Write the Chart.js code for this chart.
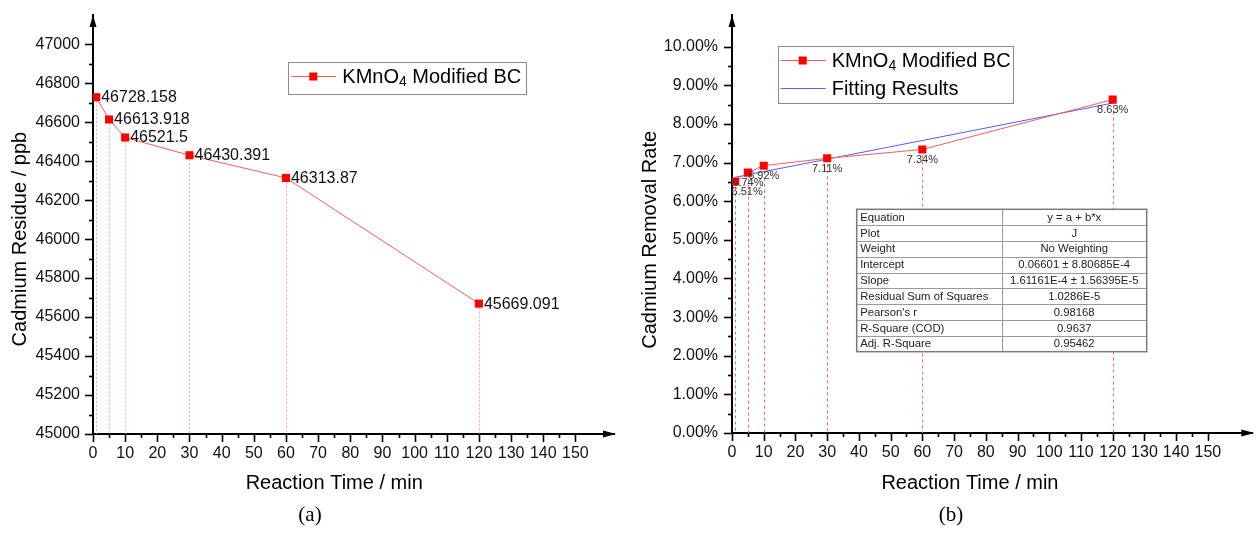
<!DOCTYPE html>
<html>
<head>
<meta charset="utf-8">
<script src="https://cdn.jsdelivr.net/npm/chart.js@4.4.1/dist/chart.umd.min.js"></script>
<style>
  html, body { margin: 0; padding: 0; background: #fff; }
  #wrap { position: relative; width: 1258px; height: 533px; overflow: hidden; }
  .panel { position: absolute; top: 0; width: 629px; height: 533px; }
  #panelA { left: 0; }
  #panelB { left: 629px; }
</style>
</head>
<body>
<div id="wrap">
  <div class="panel" id="panelA"><canvas id="residueChart" width="629" height="533"></canvas></div>
  <div class="panel" id="panelB"><canvas id="removalChart" width="629" height="533"></canvas></div>
</div>
<script>
// datos del ensayo de adsorción de Cd
const reactionTime = [1, 5, 10, 30, 60, 120];
const cdResidue = [46728.158, 46613.918, 46521.5, 46430.391, 46313.87, 45669.091];
const removalRate = [6.51, 6.74, 6.92, 7.11, 7.34, 8.63];
const fitTime = [1, 120];
const fitRate = [6.62, 8.54];

const timeTicks = [0, 10, 20, 30, 40, 50, 60, 70, 80, 90, 100, 110, 120, 130, 140, 150];
const residueTicks = [45000, 45200, 45400, 45600, 45800, 46000, 46200, 46400, 46600, 46800, 47000];
const rateTicks = [0, 1, 2, 3, 4, 5, 6, 7, 8, 9, 10];

const fitTableLabels = ['Equation', 'Plot', 'Weight', 'Intercept', 'Slope', 'Residual Sum of Squares', "Pearson's r", 'R-Square (COD)', 'Adj. R-Square'];
const fitTableValues = ['y = a + b*x', 'J', 'No Weighting', '0.06601 \u00b1 8.80685E-4', '1.61161E-4 \u00b1 1.56395E-5', '1.0286E-5', '0.98168', '0.9637', '0.95462'];

const FONT = '"Liberation Sans", Arial, sans-serif';
const SERIF = '"Liberation Serif", "Times New Roman", serif';

function toPoints(xs, ys) {
    return xs.map((x, i) => ({ x: x, y: ys[i] }));
}

// texto con subíndice: partes [texto, esSub]
function drawRich(ctx, parts, x, y, size) {
    let cx = x;
    parts.forEach(([txt, sub]) => {
        ctx.font = (sub ? Math.round(size * 0.7) : size) + 'px ' + FONT;
        ctx.fillText(txt, cx, sub ? y + size * 0.25 : y);
        cx += ctx.measureText(txt).width;
    });
}

function drawLegend(ctx, box, rows) {
    ctx.save();
    ctx.fillStyle = '#fff';
    ctx.fillRect(box.x, box.y, box.w, box.h);
    ctx.strokeStyle = '#8c8c8c';
    ctx.lineWidth = 1;
    ctx.strokeRect(Math.round(box.x) + 0.5, Math.round(box.y) + 0.5, Math.round(box.w), Math.round(box.h));
    rows.forEach(r => {
        ctx.strokeStyle = r.color;
        ctx.beginPath();
        ctx.moveTo(box.x + 3, r.y + 0.5);
        ctx.lineTo(box.x + 48, r.y + 0.5);
        ctx.stroke();
        if (r.marker) {
            ctx.fillStyle = '#ff0000';
            ctx.fillRect(box.x + 21, r.y - 3.5, 8, 8);
        }
        ctx.fillStyle = '#000';
        ctx.textBaseline = 'middle';
        ctx.textAlign = 'left';
        drawRich(ctx, r.text, box.x + 54, r.y + 1, 20);
    });
    ctx.restore();
}

// ejes estilo Origin: marcas mayores/menores, flechas, títulos y línea de caída
const originAxes = {
    id: 'originAxes',
    beforeDatasetsDraw(chart, args, opts) {
        const { ctx, chartArea: a } = chart;
        const meta = chart.getDatasetMeta(0);
        ctx.save();
        ctx.strokeStyle = opts.dropColor;
        ctx.lineWidth = 1;
        ctx.setLineDash(opts.dropDash);
        meta.data.forEach(pt => {
            const px = Math.round(pt.x) + 0.5;
            ctx.beginPath();
            ctx.moveTo(px, pt.y);
            ctx.lineTo(px, a.bottom);
            ctx.stroke();
        });
        ctx.restore();
    },
    afterDatasetsDraw(chart, args, opts) {
        const { ctx } = chart;
        const meta = chart.getDatasetMeta(0);
        const ds = chart.data.datasets[0];
        ctx.save();
        ctx.fillStyle = opts.labelColor;
        ctx.font = opts.labelSize + 'px ' + FONT;
        ctx.textBaseline = 'middle';
        meta.data.forEach((pt, i) => {
            const txt = opts.labelFormat(ds.data[i].y);
            const shift = (opts.labelShift && opts.labelShift[i]) || [0, 0];
            if (opts.labelSide === 'right') {
                ctx.textAlign = 'left';
                ctx.fillText(txt, pt.x + 5 + shift[0], pt.y + 0.5 + shift[1]);
            } else {
                ctx.textAlign = 'center';
                ctx.fillText(txt, pt.x + shift[0], pt.y + 10.5 + shift[1]);
            }
        });
        ctx.restore();
    },
    afterDraw(chart, args, opts) {
        const { ctx, chartArea: a, scales: { x, y } } = chart;
        ctx.save();
        ctx.strokeStyle = '#000';
        ctx.fillStyle = '#000';
        ctx.lineWidth = 1.6;
        // marcas eje X
        for (let i = 0; i * opts.xMinor <= opts.xLast + 1e-9; i++) {
            const v = i * opts.xMinor;
            const major = i % 2 === 0;
            const px = Math.round(x.getPixelForValue(v)) + 0.5;
            ctx.beginPath();
            ctx.moveTo(px, a.bottom);
            ctx.lineTo(px, a.bottom + (major ? 8 : 4));
            ctx.stroke();
        }
        // marcas eje Y
        for (let i = 0; y.min + i * opts.yMinor <= opts.yLast + 1e-9; i++) {
            const v = y.min + i * opts.yMinor;
            const major = i % 2 === 0;
            const py = Math.round(y.getPixelForValue(v)) + 0.5;
            ctx.beginPath();
            ctx.moveTo(a.left, py);
            ctx.lineTo(a.left - (major ? 8 : 4), py);
            ctx.stroke();
        }
        // flechas
        ctx.beginPath();
        ctx.moveTo(a.left, a.top);
        ctx.lineTo(a.left - 3.5, a.top + 12);
        ctx.lineTo(a.left + 3.5, a.top + 12);
        ctx.closePath();
        ctx.fill();
        ctx.beginPath();
        ctx.moveTo(a.right + 2, a.bottom);
        ctx.lineTo(a.right - 11, a.bottom - 3.5);
        ctx.lineTo(a.right - 11, a.bottom + 3.5);
        ctx.closePath();
        ctx.fill();

        // títulos de ejes
        ctx.font = '20px ' + FONT;
        ctx.textAlign = 'center';
        ctx.textBaseline = 'middle';
        ctx.fillText(opts.xTitle, x.getPixelForValue(opts.xMid), 483);
        ctx.save();
        ctx.translate(opts.yTitleX, y.getPixelForValue(opts.yMid));
        ctx.rotate(-Math.PI / 2);
        ctx.fillText(opts.yTitle, 0, 0);
        ctx.restore();

        // rótulo del panel
        ctx.font = '21px ' + SERIF;
        ctx.fillText(opts.caption, opts.captionX, 515);
        ctx.restore();

        drawLegend(ctx, opts.legendBox, opts.legendRows);
        if (opts.table) drawTable(ctx, opts.table);
    }
};

function drawTable(ctx, t) {
    const rowH = (t.bottom - t.top) / fitTableLabels.length;
    ctx.save();
    ctx.fillStyle = '#fff';
    ctx.fillRect(t.left, t.top, t.right - t.left, t.bottom - t.top);
    ctx.strokeStyle = '#9a9a9a';
    ctx.lineWidth = 1;
    for (let i = 1; i < fitTableLabels.length; i++) {
        const py = Math.round(t.top + i * rowH) + 0.5;
        ctx.beginPath();
        ctx.moveTo(t.left, py);
        ctx.lineTo(t.right, py);
        ctx.stroke();
    }
    ctx.beginPath();
    ctx.moveTo(Math.round(t.mid) + 0.5, t.top);
    ctx.lineTo(Math.round(t.mid) + 0.5, t.bottom);
    ctx.stroke();
    ctx.strokeStyle = '#7a7a7a';
    ctx.lineWidth = 1.5;
    ctx.strokeRect(t.left, t.top, t.right - t.left, t.bottom - t.top);

    ctx.fillStyle = '#222';
    ctx.font = '11.3px ' + FONT;
    ctx.textBaseline = 'middle';
    fitTableLabels.forEach((lbl, i) => {
        const cy = t.top + (i + 0.5) * rowH + 0.5;
        ctx.textAlign = 'left';
        ctx.fillText(lbl, t.left + 3.5, cy);
        ctx.textAlign = 'center';
        ctx.fillText(fitTableValues[i], (t.mid + t.right) / 2, cy);
    });
    ctx.restore();
}

function baseScales(xMax, yMin, yMax, yTicks, yFmt, yWidth, xHeight, yPad) {
    return {
        x: {
            type: 'linear',
            min: 0,
            max: xMax,
            afterBuildTicks: s => { s.ticks = timeTicks.map(v => ({ value: v })); },
            afterFit: s => { s.height = xHeight; s.paddingLeft = 0; s.paddingRight = 0; },
            grid: { display: false, drawTicks: false },
            border: { display: true, color: '#000', width: 2 },
            ticks: {
                autoSkip: false,
                maxRotation: 0,
                padding: 10,
                color: '#111',
                font: { family: FONT, size: 16 },
                callback: v => String(v)
            }
        },
        y: {
            type: 'linear',
            min: yMin,
            max: yMax,
            afterBuildTicks: s => { s.ticks = yTicks.map(v => ({ value: v })); },
            afterFit: s => { s.width = yWidth; s.paddingTop = 0; s.paddingBottom = 0; },
            grid: { display: false, drawTicks: false },
            border: { display: true, color: '#000', width: 2 },
            ticks: {
                padding: yPad,
                color: '#111',
                font: { family: FONT, size: 16 },
                callback: yFmt
            }
        }
    };
}

const seriesStyle = {
    showLine: true,
    borderColor: '#ff5a5a',
    borderWidth: 1,
    backgroundColor: '#ff0000',
    pointStyle: 'rect',
    pointRadius: 5.7,
    pointHoverRadius: 5.7,
    pointBorderWidth: 0,
    pointBackgroundColor: '#ff0000',
    tension: 0
};

const kmno4Label = [['KMnO', false], ['4', true], [' Modified BC', false]];

// (a) residuo de Cd
new Chart(document.getElementById('residueChart'), {
    type: 'scatter',
    data: {
        datasets: [Object.assign({
            label: 'KMnO4 Modified BC',
            data: toPoints(reactionTime, cdResidue)
        }, seriesStyle)]
    },
    options: {
        responsive: false,
        devicePixelRatio: 1,
        animation: false,
        layout: { padding: { top: 15, right: 15, bottom: 0, left: 0 } },
        scales: baseScales(162, 45000, 47150, residueTicks, v => String(v), 93, 99, 13),
        plugins: {
            legend: { display: false },
            tooltip: { enabled: false },
            originAxes: {
                xMinor: 5, xLast: 150, yMinor: 100, yLast: 47000,
                dropColor: '#ffa8a8', dropDash: [2, 2],
                labelSide: 'right', labelSize: 16, labelColor: '#111',
                labelFormat: v => String(v),
                xTitle: 'Reaction Time / min', xMid: 75,
                yTitle: 'Cadmium Residue / ppb', yMid: 46000, yTitleX: 20,
                caption: '(a)', captionX: 310,
                legendBox: { x: 288.3, y: 62.3, w: 237.7, h: 32 },
                legendRows: [{ y: 76, color: '#ff5a5a', marker: true, text: kmno4Label }]
            }
        }
    },
    plugins: [originAxes]
});

// (b) tasa de remoción con ajuste lineal
new Chart(document.getElementById('removalChart'), {
    type: 'scatter',
    data: {
        datasets: [
            Object.assign({
                label: 'KMnO4 Modified BC',
                data: toPoints(reactionTime, removalRate)
            }, seriesStyle),
            {
                label: 'Fitting Results',
                data: toPoints(fitTime, fitRate),
                showLine: true,
                borderColor: '#5a5aff',
                borderWidth: 1,
                pointRadius: 0,
                pointHoverRadius: 0
            }
        ]
    },
    options: {
        responsive: false,
        devicePixelRatio: 1,
        animation: false,
        layout: { padding: { top: 15, right: 2, bottom: 0, left: 0 } },
        scales: baseScales(164, 0, 10.82, rateTicks, v => v.toFixed(2) + '%', 103, 100, 14),
        plugins: {
            legend: { display: false },
            tooltip: { enabled: false },
            originAxes: {
                xMinor: 5, xLast: 150, yMinor: 0.5, yLast: 10,
                dropColor: '#ff6060', dropDash: [3, 3],
                labelSide: 'below', labelSize: 11, labelColor: '#333',
                labelShift: { 0: [12, 0] },
                labelFormat: v => v.toFixed(2) + '%',
                xTitle: 'Reaction Time / min', xMid: 75,
                yTitle: 'Cadmium Removal Rate', yMid: 5, yTitleX: 21,
                caption: '(b)', captionX: 322,
                legendBox: { x: 148.7, y: 45.7, w: 234.6, h: 56.6 },
                legendRows: [
                    { y: 60, color: '#ff5a5a', marker: true, text: kmno4Label },
                    { y: 88, color: '#5a5aff', marker: false, text: [['Fitting Results', false]] }
                ],
                table: { left: 227.7, right: 517.7, top: 209.3, bottom: 351.7, mid: 372.7 }
            }
        }
    },
    plugins: [originAxes]
});
</script>
</body>
</html>
